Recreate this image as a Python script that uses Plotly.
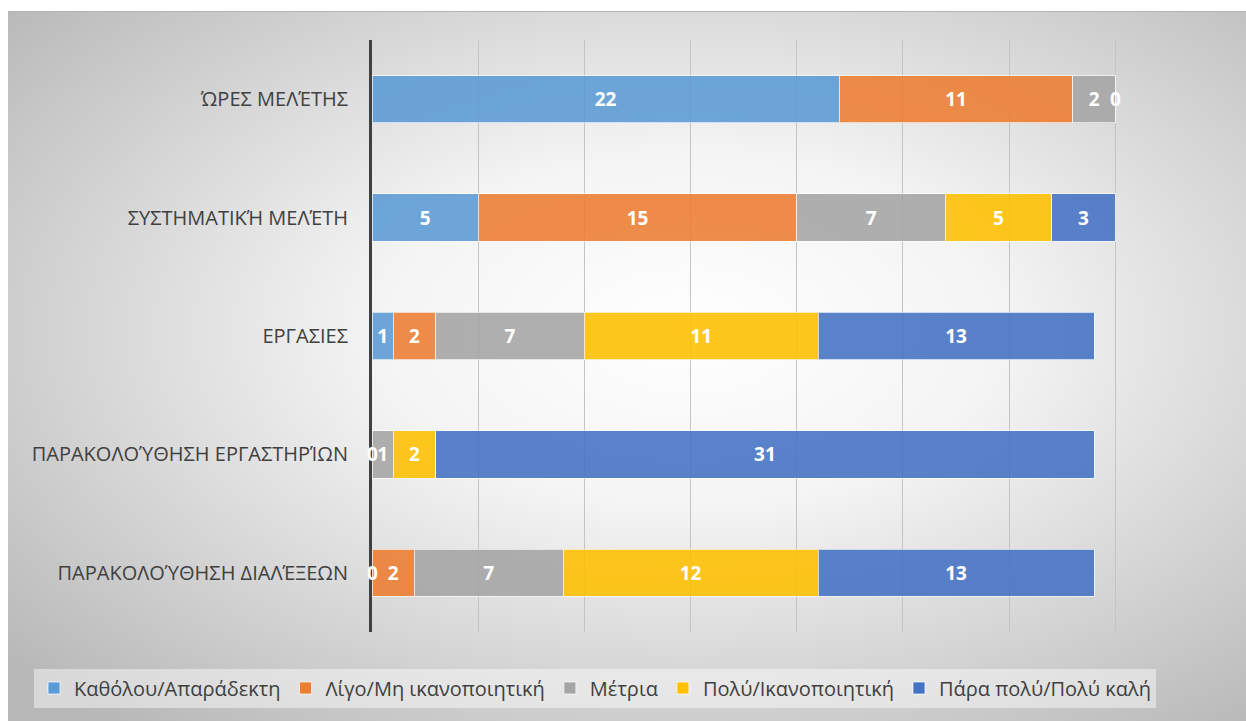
import base64
import plotly.graph_objects as go

categories = ["ΏΡΕΣ ΜΕΛΈΤΗΣ", "ΣΥΣΤΗΜΑΤΙΚΉ ΜΕΛΈΤΗ", "ΕΡΓΑΣΙΕΣ",
              "ΠΑΡΑΚΟΛΟΎΘΗΣΗ ΕΡΓΑΣΤΗΡΊΩΝ", "ΠΑΡΑΚΟΛΟΎΘΗΣΗ ΔΙΑΛΈΞΕΩΝ"]
series_names = ["Καθόλου/Απαράδεκτη", "Λίγο/Μη ικανοποιητική", "Μέτρια",
                "Πολύ/Ικανοποιητική", "Πάρα πολύ/Πολύ καλή"]
katholou = [22, 5, 1, 0, 0]
ligo = [11, 15, 2, None, 2]
metria = [2, 7, 7, 1, 7]
poly = [0, 5, 11, 2, 12]
para_poly = [None, 3, 13, 31, 13]
series_values = [katholou, ligo, metria, poly, para_poly]
colors = ["#5B9BD5", "#ED7D31", "#A5A5A5", "#FFC000", "#4472C4"]

FONT = "Open Sans"
W, H = 1246, 721
L, R, T, B = 372, 24, 40, 89
pw, ph = W - L - R, H - T - B
LABEL_FONT = dict(family=FONT, size=19, color="white", weight="bold")

fig = go.Figure()
for name, vals, col in zip(series_names, series_values, colors):
    txt = [("" if (v is None or v == 0) else str(v)) for v in vals]
    fig.add_trace(go.Bar(
        y=categories, x=vals, name=name, orientation="h",
        marker=dict(color=col, opacity=0.88,
                    line=dict(color="rgba(255,255,255,0.7)", width=1)),
        text=txt, textposition="inside", insidetextanchor="middle",
        textangle=0, insidetextfont=LABEL_FONT,
        hoverinfo="x+name",
    ))

# labels for zero-valued segments, placed at their stack position
annotations = []
for i, cat in enumerate(categories):
    cum = 0
    for vals in series_values:
        v = vals[i]
        if v is None:
            continue
        if v == 0:
            annotations.append(dict(x=cum, y=cat, xref="x", yref="y", text="0",
                                    showarrow=False, font=LABEL_FONT,
                                    xanchor="center", yanchor="middle"))
        cum += v

svg = f'''<svg xmlns="http://www.w3.org/2000/svg" width="{W}" height="{H}" viewBox="0 0 {W} {H}" preserveAspectRatio="none">
<defs><radialGradient id="g" cx="0.55" cy="0.45" r="0.72">
<stop offset="0" stop-color="#ffffff"/><stop offset="0.35" stop-color="#f4f4f4"/><stop offset="1" stop-color="#b8b8b8"/></radialGradient></defs>
<rect x="0" y="0" width="{W}" height="{H}" fill="#ffffff"/>
<rect x="8" y="11" width="{W-8}" height="{H-11}" fill="url(#g)"/>
<line x1="8" y1="11.5" x2="{W}" y2="11.5" stroke="#b4b4b4" stroke-width="1"/>
</svg>'''
src = "data:image/svg+xml;base64," + base64.b64encode(svg.encode("utf-8")).decode()

fig.update_layout(
    width=W, height=H,
    margin=dict(l=L, r=R, t=T, b=B, pad=0, autoexpand=False),
    barmode="stack", bargap=0.6,
    paper_bgcolor="white", plot_bgcolor="rgba(0,0,0,0)",
    font=dict(family=FONT, color="#404040"),
    annotations=annotations,
    images=[dict(source=src, xref="paper", yref="paper",
                 x=-L / pw, y=(ph + T) / ph, sizex=W / pw, sizey=H / ph,
                 xanchor="left", yanchor="top", sizing="stretch", layer="below")],
    legend=dict(orientation="h", xref="paper", yref="paper",
                x=(34 - L) / pw, xanchor="left", y=-(688 - (T + ph)) / ph, yanchor="middle",
                bgcolor="rgba(255,255,255,0.45)", font=dict(size=20, color="#404040"),
                itemwidth=30, traceorder="normal", tracegroupgap=0),
    xaxis=dict(range=[0, 40.02], dtick=5, showticklabels=False, showgrid=True,
               gridcolor="#c4c4c4", gridwidth=1, zeroline=False, fixedrange=True),
    yaxis=dict(categoryorder="array", categoryarray=categories[::-1],
               showline=True, linecolor="#404040", linewidth=3, ticks="",
               ticklabelstandoff=17, tickfont=dict(size=20, color="#404040"),
               showgrid=False, zeroline=False, fixedrange=True),
)

fig.write_html("out.html", config={"displayModeBar": False},
               post_script="document.body.style.margin='0';")
